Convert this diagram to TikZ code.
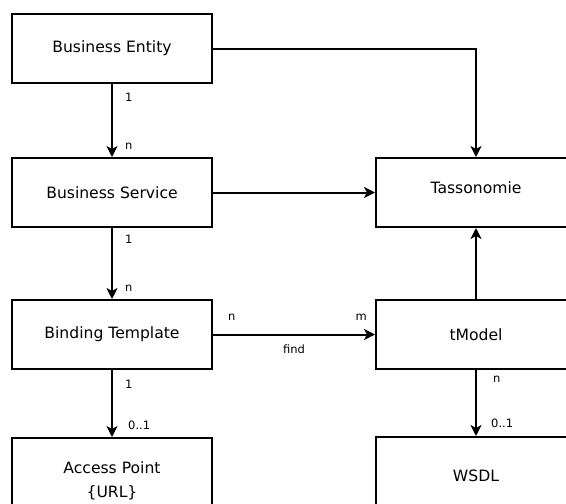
\documentclass[tikz,border=0pt]{standalone}
\usepackage{fontspec}
\setmainfont{DejaVu Sans}
\usetikzlibrary{arrows.meta,calc}
\begin{document}
\begin{tikzpicture}[x=1pt,y=-1pt,
  boxfont/.style={font=\fontsize{15.6}{24}\selectfont},
  box/.style={draw,line width=2pt,minimum width=200pt,minimum height=69pt,boxfont,inner sep=0pt,align=center},
  conn/.style={line width=2pt,-{Stealth[length=11pt,width=11pt,inset=3pt]}},
  lbl/.style={font=\fontsize{11.5}{13}\selectfont,inner sep=0pt}]
\clip (0,0) rectangle (566,504);
\node[box] (be) at (112,48.5) {Business Entity};
\node[box] (bs) at (112,192.5) {Business Service};
\node[box] (bt) at (112,334.5) {Binding Template};
\node[box,minimum height=86pt] (ap) at (112,481) {Access Point\\\{URL\}};
\node[box,label={[boxfont,yshift=5pt]center:Tassonomie}] (tas) at (476,192.5) {};
\node[box] (tm) at (476,334.5) {tModel};
\node[box,minimum height=78pt] (wsdl) at (476,476) {WSDL};

\draw[conn] (be.south) -- (bs.north);
\node[lbl,anchor=west] (l1) at ($(be.south)+(13,13)$) {1};
\node[lbl,anchor=west] (l2) at ($(bs.north)+(13,-11)$) {n};

\draw[conn] (be.east) -| (tas.north);
\draw[conn] (bs.east) -- (tas.west);

\draw[conn] (bs.south) -- (bt.north);
\node[lbl,anchor=west] (l3) at ($(bs.south)+(13,11)$) {1};
\node[lbl,anchor=west] (l4) at ($(bt.north)+(13,-11)$) {n};

\draw[conn] (bt.east) -- (tm.west);
\node[lbl,anchor=west] (l5) at ($(bt.east)+(15,-17)$) {n};
\node[lbl,anchor=east] (l6) at ($(tm.west)+(-8,-17)$) {m};
\node[lbl] (l7) at ($(bt.east)!0.5!(tm.west)+(0,15)$) {find};

\draw[conn] (tm.north) -- (tas.south);

\draw[conn] (bt.south) -- (ap.north);
\node[lbl,anchor=west] (l8) at ($(bt.south)+(13,14)$) {1};
\node[lbl,anchor=west] (l9) at ($(ap.north)+(16,-12)$) {0..1};

\draw[conn] (tm.south) -- (wsdl.north);
\node[lbl,anchor=west] (l10) at ($(tm.south)+(17,9)$) {n};
\node[lbl,anchor=west] (l11) at ($(wsdl.north)+(15,-13)$) {0..1};
\end{tikzpicture}
\end{document}
